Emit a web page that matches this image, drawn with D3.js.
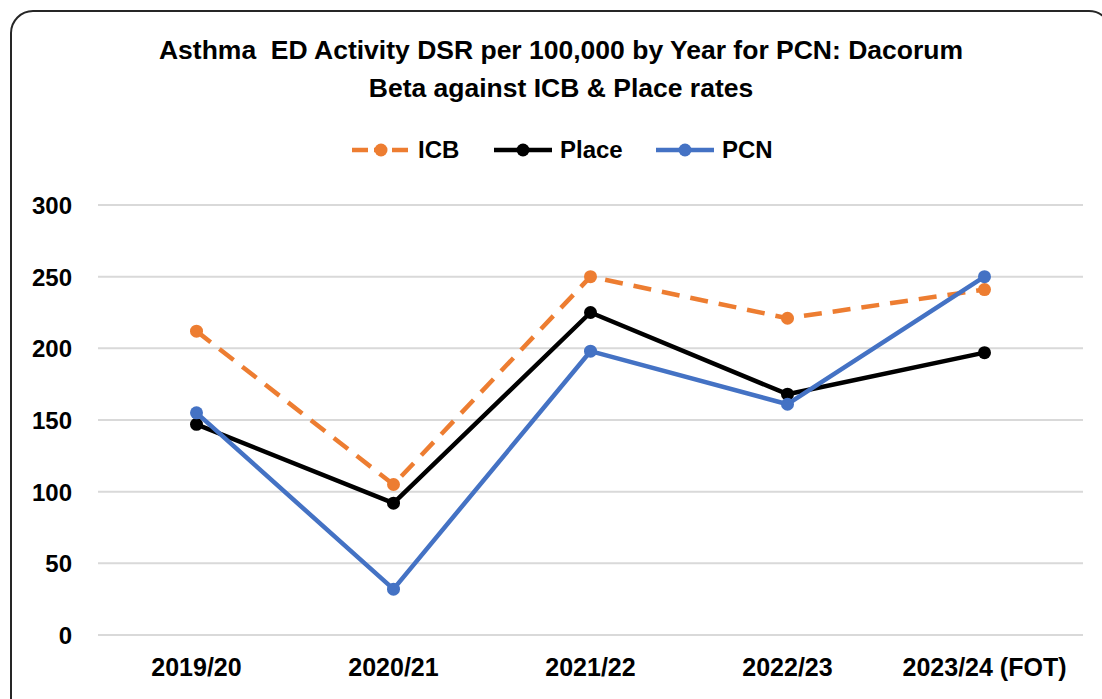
<!DOCTYPE html>
<html>
<head>
<meta charset="utf-8">
<script src="https://cdn.jsdelivr.net/npm/d3@7"></script>
<style>
  body { margin: 0; background: #fff; }
  svg { display: block; font-family: "Liberation Sans", Arial, sans-serif; }
</style>
</head>
<body>
<div id="chart"></div>
<script>
var years = ["2019/20", "2020/21", "2021/22", "2022/23", "2023/24 (FOT)"];
var icbValues = [212, 105, 250, 221, 241];
var placeValues = [147, 92, 225, 168, 197];
var pcnValues = [155, 32, 198, 161, 250];
var yTicks = [0, 50, 100, 150, 200, 250, 300];
var seriesNames = ["ICB", "Place", "PCN"];
var seriesColors = ["#ed7d31", "#000000", "#4472c4"];

function init(){
    var w = 1102;
    var h = 699;
    var margin = {top: 205, right: 19, bottom: 64, left: 98};

    var svg = d3.select("#chart")
                .append("svg")
                .attr("width", w)
                .attr("height", h);

    // frame
    svg.append("rect")
        .attr("x", 11)
        .attr("y", 11)
        .attr("width", 1100)
        .attr("height", 720)
        .attr("rx", 22)
        .style("fill", "white")
        .style("stroke", "#262626")
        .style("stroke-width", 2);

    var x = d3.scaleBand()
                .domain(years)
                .range([margin.left, w - margin.right]);

    var y = d3.scaleLinear()
                .domain([0, 300])
                .range([h - margin.bottom, margin.top]);

    // gridlines
    svg.append("g")
        .selectAll("line")
        .data(yTicks)
        .enter()
        .append("line")
        .attr("x1", margin.left)
        .attr("x2", w - margin.right)
        .attr("y1", function(d){ return y(d); })
        .attr("y2", function(d){ return y(d); })
        .style("stroke", "#d9d9d9")
        .style("stroke-width", 2);

    var yAxis = svg.append("g")
        .attr("transform", "translate(" + (margin.left - 26) + ",0)")
        .call(d3.axisLeft(y).tickValues(yTicks).tickSize(0).tickPadding(0));
    yAxis.select(".domain").remove();
    yAxis.selectAll("text")
        .style("font-size", "24px")
        .style("font-weight", "bold")
        .style("font-family", "Liberation Sans, sans-serif")
        .style("fill", "#000")
        .attr("dy", "0.35em");

    var xAxis = svg.append("g")
        .attr("transform", "translate(0," + (h - margin.bottom) + ")")
        .call(d3.axisBottom(x).tickSize(0).tickPadding(23));
    xAxis.select(".domain").remove();
    xAxis.selectAll("text")
        .style("font-size", "25px")
        .style("font-weight", "bold")
        .style("font-family", "Liberation Sans, sans-serif")
        .style("fill", "#000")
        .attr("dy", "0.71em");

    var series = [
        {name: seriesNames[0], values: icbValues, color: seriesColors[0], dash: "18,11"},
        {name: seriesNames[1], values: placeValues, color: seriesColors[1], dash: null},
        {name: seriesNames[2], values: pcnValues, color: seriesColors[2], dash: null}
    ];

    var line = d3.line()
                .x(function(d, i){ return x(years[i]) + x.bandwidth()/2; })
                .y(function(d){ return y(d); });

    series.forEach(function(s){
        var g = svg.append("g");
        g.append("path")
            .datum(s.values)
            .attr("d", line)
            .style("fill", "none")
            .style("stroke", s.color)
            .style("stroke-width", 4.5)
            .style("stroke-linejoin", "round")
            .style("stroke-dasharray", s.dash);
        g.selectAll("circle")
            .data(s.values)
            .enter()
            .append("circle")
            .attr("cx", function(d, i){ return x(years[i]) + x.bandwidth()/2; })
            .attr("cy", function(d){ return y(d); })
            .attr("r", 6.5)
            .style("fill", s.color);
    });

    // title
    var title = svg.append("text")
        .attr("text-anchor", "middle")
        .style("font-size", "26.5px")
        .style("font-weight", "bold")
        .style("white-space", "pre");
    title.append("tspan").attr("x", 561).attr("y", 59)
        .text("Asthma  ED Activity DSR per 100,000 by Year for PCN: Dacorum");
    title.append("tspan").attr("x", 561).attr("y", 97)
        .text("Beta against ICB & Place rates");

    // legend
    var legendX = [352, 494, 656];
    var legend = svg.append("g")
        .selectAll("g")
        .data(series)
        .enter()
        .append("g")
        .attr("transform", function(d, i){ return "translate(" + legendX[i] + ",150)"; });
    legend.append("line")
        .attr("x1", 0).attr("x2", 58)
        .style("stroke", function(d){ return d.color; })
        .style("stroke-width", 4.5)
        .style("stroke-dasharray", function(d){ return d.dash ? "16,6,12,6,16" : null; });
    legend.append("circle")
        .attr("cx", 29).attr("r", 6.5)
        .style("fill", function(d){ return d.color; });
    legend.append("text")
        .attr("x", 66)
        .attr("dy", "0.35em")
        .style("font-size", "24px")
        .style("font-weight", "bold")
        .text(function(d){ return d.name; });
}
window.onload = init;
</script>
</body>
</html>
